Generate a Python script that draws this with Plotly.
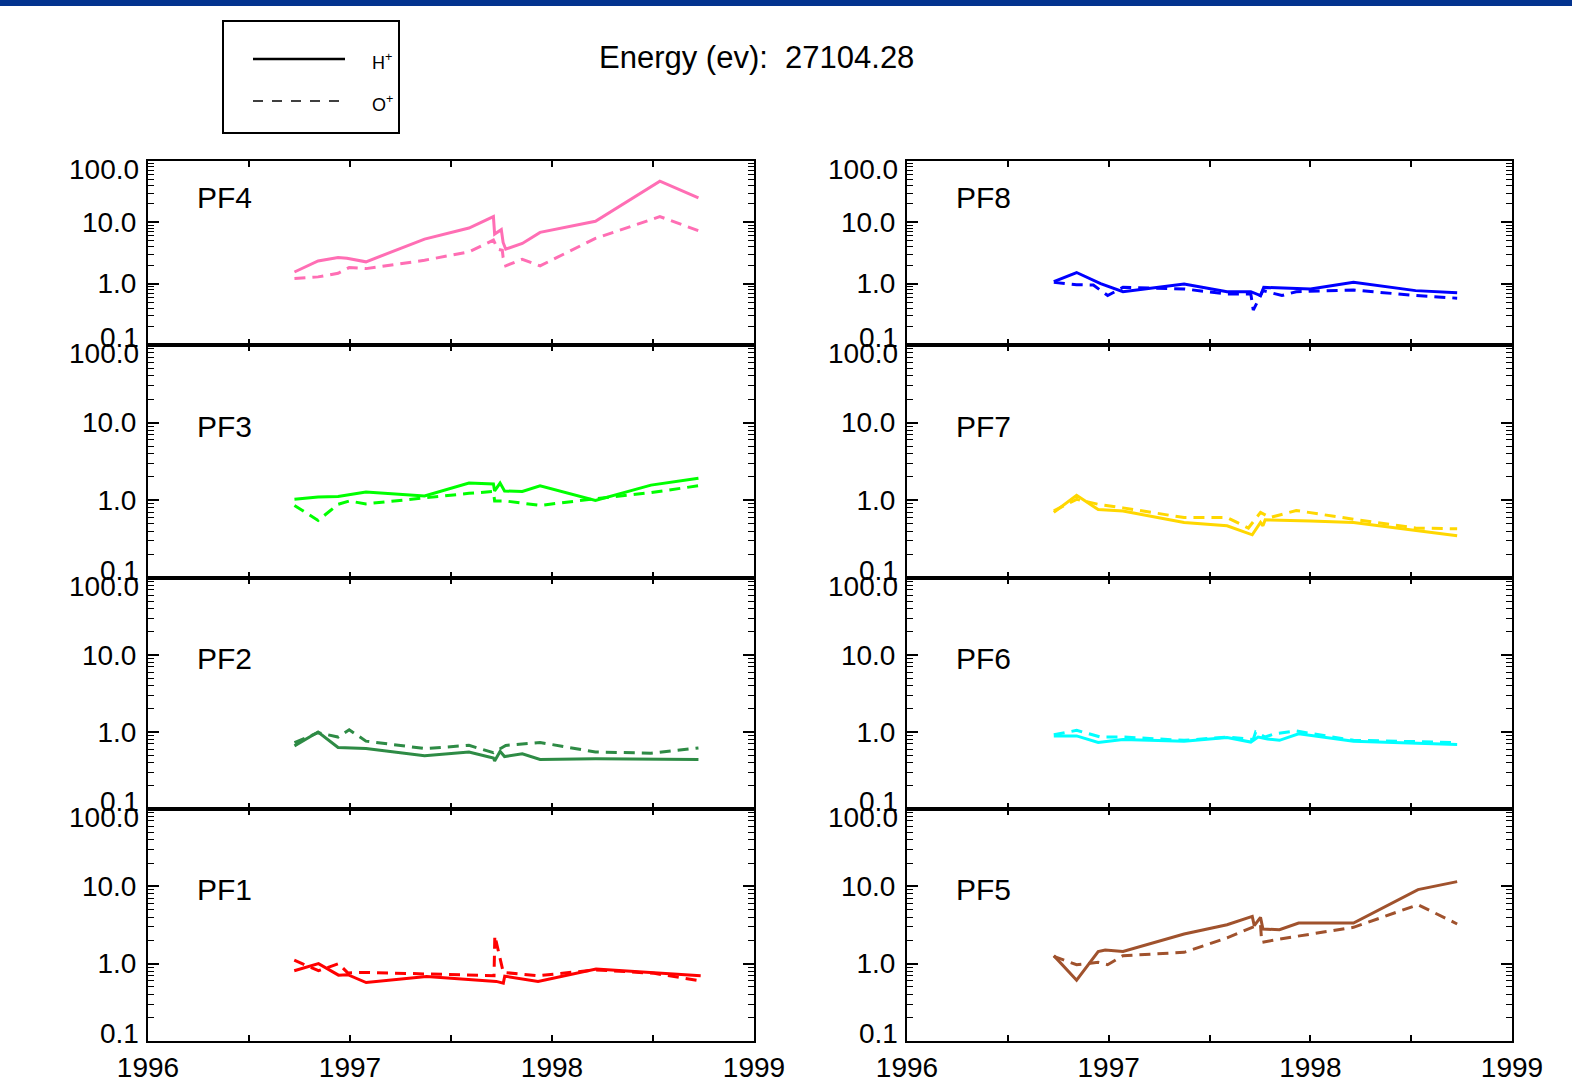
import plotly.graph_objects as go

# ---------------- data (decimal years, normalized flux) ----------------
panels = ["PF4", "PF3", "PF2", "PF1", "PF8", "PF7", "PF6", "PF5"]
panel_colors = ["#FF6EB4", "#00FF00", "#2E8B45", "#FF0000",
                "#0000FF", "#FFD700", "#00FFFF", "#A0522D"]

pf4_h_x = [1996.725, 1996.842, 1996.941, 1996.985, 1997.079, 1997.369, 1997.589, 1997.710, 1997.716, 1997.749, 1997.758, 1997.771, 1997.853, 1997.941, 1998.215, 1998.534, 1998.725]
pf4_h_y = [1.55, 2.35, 2.67, 2.6, 2.27, 5.33, 8.07, 12.4, 6.44, 7.6, 4.7, 3.65, 4.53, 6.86, 10.4, 47, 25]
pf4_o_x = [1996.725, 1996.842, 1996.941, 1996.996, 1997.079, 1997.369, 1997.589, 1997.710, 1997.732, 1997.754, 1997.758, 1997.771, 1997.853, 1997.941, 1998.215, 1998.534, 1998.725]
pf4_o_y = [1.21, 1.29, 1.48, 1.83, 1.76, 2.41, 3.3, 5.13, 3.65, 3.5, 2.67, 1.95, 2.5, 1.95, 5.47, 12.4, 7.3]

pf3_h_x = [1996.725, 1996.842, 1996.941, 1997.079, 1997.369, 1997.589, 1997.710, 1997.716, 1997.743, 1997.765, 1997.853, 1997.941, 1998.215, 1998.490, 1998.725]
pf3_h_y = [1.03, 1.1, 1.12, 1.28, 1.14, 1.67, 1.62, 1.32, 1.67, 1.32, 1.3, 1.54, 1.0, 1.57, 1.92]
pf3_o_x = [1996.725, 1996.842, 1996.941, 1996.996, 1997.079, 1997.369, 1997.589, 1997.710, 1997.716, 1997.771, 1997.853, 1997.941, 1998.215, 1998.490, 1998.725]
pf3_o_y = [0.86, 0.55, 0.89, 0.98, 0.9, 1.08, 1.23, 1.3, 0.98, 0.98, 0.92, 0.86, 1.05, 1.26, 1.54]

pf2_h_x = [1996.725, 1996.842, 1996.941, 1997.079, 1997.369, 1997.589, 1997.710, 1997.716, 1997.743, 1997.765, 1997.853, 1997.941, 1998.215, 1998.725]
pf2_h_y = [0.66, 1.0, 0.63, 0.61, 0.49, 0.55, 0.46, 0.42, 0.56, 0.48, 0.52, 0.44, 0.45, 0.44]
pf2_o_x = [1996.725, 1996.842, 1996.941, 1996.996, 1997.079, 1997.369, 1997.589, 1997.710, 1997.771, 1997.941, 1998.215, 1998.490, 1998.725]
pf2_o_y = [0.73, 0.98, 0.86, 1.07, 0.76, 0.61, 0.67, 0.54, 0.67, 0.73, 0.55, 0.53, 0.62]

pf1_h_x = [1996.724, 1996.844, 1996.943, 1996.989, 1997.080, 1997.379, 1997.724, 1997.759, 1997.766, 1997.931, 1998.218, 1998.736]
pf1_h_y = [0.81, 1.0, 0.71, 0.72, 0.57, 0.68, 0.59, 0.56, 0.69, 0.59, 0.85, 0.70]
pf1_o_x = [1996.724, 1996.844, 1996.943, 1996.989, 1997.080, 1997.379, 1997.713, 1997.717, 1997.759, 1997.931, 1998.218, 1998.506, 1998.736]
pf1_o_y = [1.11, 0.81, 1.0, 0.76, 0.77, 0.73, 0.70, 2.3, 0.77, 0.70, 0.83, 0.75, 0.60]

pf8_h_x = [1996.728, 1996.841, 1996.960, 1997.071, 1997.374, 1997.587, 1997.705, 1997.753, 1997.769, 1998.001, 1998.214, 1998.522, 1998.728]
pf8_h_y = [1.08, 1.52, 1.0, 0.74, 0.99, 0.74, 0.74, 0.64, 0.87, 0.82, 1.05, 0.77, 0.71]
pf8_o_x = [1996.728, 1996.841, 1996.924, 1996.995, 1997.071, 1997.374, 1997.587, 1997.705, 1997.717, 1997.765, 1997.859, 1997.930, 1998.214, 1998.522, 1998.728]
pf8_o_y = [1.05, 0.96, 0.95, 0.64, 0.87, 0.82, 0.68, 0.68, 0.37, 0.77, 0.64, 0.74, 0.79, 0.64, 0.58]

pf7_h_x = [1996.728, 1996.841, 1996.948, 1997.071, 1997.374, 1997.587, 1997.712, 1997.753, 1997.765, 1997.776, 1998.001, 1998.214, 1998.728]
pf7_h_y = [0.70, 1.16, 0.76, 0.73, 0.52, 0.47, 0.36, 0.52, 0.47, 0.56, 0.54, 0.52, 0.35]
pf7_o_x = [1996.728, 1996.841, 1996.948, 1997.071, 1997.374, 1997.587, 1997.693, 1997.753, 1997.800, 1997.930, 1998.214, 1998.522, 1998.728]
pf7_o_y = [0.73, 1.03, 0.89, 0.80, 0.60, 0.60, 0.44, 0.70, 0.60, 0.74, 0.57, 0.44, 0.43]

pf6_h_x = [1996.728, 1996.841, 1996.948, 1997.071, 1997.374, 1997.587, 1997.705, 1997.741, 1997.788, 1997.847, 1997.942, 1998.214, 1998.728]
pf6_h_y = [0.89, 0.89, 0.73, 0.80, 0.76, 0.85, 0.74, 0.86, 0.81, 0.78, 0.95, 0.76, 0.69]
pf6_o_x = [1996.728, 1996.841, 1996.960, 1997.071, 1997.374, 1997.587, 1997.717, 1997.729, 1997.776, 1997.824, 1997.930, 1998.214, 1998.728]
pf6_o_y = [0.92, 1.05, 0.86, 0.86, 0.78, 0.86, 0.80, 1.0, 0.86, 0.95, 1.03, 0.78, 0.73]

pf5_h_x = [1996.728, 1996.841, 1996.948, 1996.983, 1997.071, 1997.374, 1997.587, 1997.712, 1997.722, 1997.753, 1997.765, 1997.847, 1997.942, 1998.214, 1998.534, 1998.728]
pf5_h_y = [1.27, 0.61, 1.43, 1.5, 1.44, 2.42, 3.19, 4.09, 3.1, 3.97, 2.8, 2.75, 3.36, 3.36, 9.06, 11.5]
pf5_o_x = [1996.728, 1996.841, 1996.948, 1996.995, 1997.071, 1997.374, 1997.587, 1997.712, 1997.753, 1997.759, 1997.847, 1998.214, 1998.534, 1998.728]
pf5_o_y = [1.24, 0.97, 1.04, 0.97, 1.27, 1.4, 2.15, 2.95, 3.16, 1.89, 2.08, 2.95, 5.79, 3.26]

h_series = [(pf4_h_x, pf4_h_y), (pf3_h_x, pf3_h_y), (pf2_h_x, pf2_h_y), (pf1_h_x, pf1_h_y),
            (pf8_h_x, pf8_h_y), (pf7_h_x, pf7_h_y), (pf6_h_x, pf6_h_y), (pf5_h_x, pf5_h_y)]
o_series = [(pf4_o_x, pf4_o_y), (pf3_o_x, pf3_o_y), (pf2_o_x, pf2_o_y), (pf1_o_x, pf1_o_y),
            (pf8_o_x, pf8_o_y), (pf7_o_x, pf7_o_y), (pf6_o_x, pf6_o_y), (pf5_o_x, pf5_o_y)]

x_tickvals = [1996, 1997, 1998, 1999]
x_ticktext = ["1996", "1997", "1998", "1999"]
x_minor_vals = [1996.5, 1997.5, 1998.5]
y_major_vals = [1, 10]
y_major_text = ["1.0", "10.0"]
y_edge_top = "100.0"
y_edge_bottom = "0.1"
y_minor_vals = [m * d for d in (0.1, 1, 10) for m in range(2, 10)]

title_text = "Energy (ev):\u00a0 27104.28"

# ---------------- layout geometry (pixels) ----------------
W, H = 1572, 1087
FONT = "Liberation Sans, Arial, Helvetica, sans-serif"
col_px = [(148, 754), (907, 1512)]
row_px = [(161, 345), (345, 578), (578, 809), (809, 1041)]
label_y_px = [197, 427, 658, 889]


def px_x(p):
    return p / W


def px_y(p):
    return 1 - p / H


fig = go.Figure()
layout = {}
annotations = []

for i, name in enumerate(panels):
    col, row = divmod(i, 4)
    n = i + 1
    xa = "x" if n == 1 else f"x{n}"
    ya = "y" if n == 1 else f"y{n}"
    c = panel_colors[i]
    hx, hy = h_series[i]
    ox, oy = o_series[i]
    fig.add_trace(go.Scatter(x=hx, y=hy, xaxis=xa, yaxis=ya, mode="lines",
                             line=dict(color=c, width=3), showlegend=False,
                             name=f"{name} H+"))
    fig.add_trace(go.Scatter(x=ox, y=oy, xaxis=xa, yaxis=ya, mode="lines",
                             line=dict(color=c, width=3, dash="11px,7px"),
                             showlegend=False, name=f"{name} O+"))
    x0, x1 = col_px[col]
    y0, y1 = row_px[row]
    layout["xaxis" if n == 1 else f"xaxis{n}"] = dict(
        domain=[px_x(x0), px_x(x1)], range=[1996, 1999], anchor=ya,
        tickmode="array", tickvals=x_tickvals, ticktext=x_ticktext,
        showticklabels=(row == 3), ticks="inside", ticklen=6, tickwidth=1.5,
        tickcolor="black",
        minor=dict(tickmode="array", tickvals=x_minor_vals,
                   ticks="inside", ticklen=6, tickwidth=1.5, tickcolor="black",
                   showgrid=False),
        showline=True, linewidth=2, linecolor="black",
        mirror="allticks", showgrid=False, zeroline=False, automargin=False,
        tickfont=dict(family=FONT, size=28, color="black"),
        ticklabelstandoff=0,
    )
    layout["yaxis" if n == 1 else f"yaxis{n}"] = dict(
        domain=[px_y(y1), px_y(y0)], type="log", range=[-1, 2], anchor=xa,
        tickmode="array", tickvals=y_major_vals, ticktext=y_major_text,
        ticks="inside", ticklen=11, tickwidth=1.5, tickcolor="black",
        minor=dict(tickmode="array", tickvals=y_minor_vals, ticks="inside",
                   ticklen=6, tickwidth=1.2, tickcolor="black", showgrid=False),
        showline=True, linewidth=2, linecolor="black", mirror="allticks",
        showgrid=False, zeroline=False, automargin=False,
        tickfont=dict(family=FONT, size=28, color="black"),
        ticklabelstandoff=4,
    )
    # edge tick labels, offset inward as in the original
    annotations.append(dict(text=y_edge_top, xref="paper", yref=f"{ya} domain",
                            x=px_x(x0), y=1, xanchor="right", yanchor="middle",
                            xshift=-7, yshift=-8, showarrow=False,
                            font=dict(family=FONT, size=28, color="black")))
    annotations.append(dict(text=y_edge_bottom, xref="paper", yref=f"{ya} domain",
                            x=px_x(x0), y=0, xanchor="right", yanchor="middle",
                            xshift=-7, yshift=8, showarrow=False,
                            font=dict(family=FONT, size=28, color="black")))
    # panel name
    annotations.append(dict(text=name, xref="paper", yref="paper",
                            x=px_x(x0 + 47), y=px_y(label_y_px[row]),
                            xanchor="left", yanchor="middle", showarrow=False,
                            font=dict(family=FONT, size=30, color="black")))

# title
annotations.append(dict(text=title_text, xref="paper", yref="paper",
                        x=px_x(597), y=px_y(57), xanchor="left", yanchor="middle",
                        showarrow=False, font=dict(family=FONT, size=31, color="black")))
# legend texts
annotations.append(dict(text="H<sup>+</sup>", xref="paper", yref="paper",
                        x=px_x(370), y=px_y(61), xanchor="left", yanchor="middle",
                        showarrow=False, font=dict(family=FONT, size=18, color="black")))
annotations.append(dict(text="O<sup>+</sup>", xref="paper", yref="paper",
                        x=px_x(370), y=px_y(104), xanchor="left", yanchor="middle",
                        showarrow=False, font=dict(family=FONT, size=18, color="black")))

shapes = [
    # top banner
    dict(type="rect", xref="paper", yref="paper", x0=0, x1=1, y0=px_y(6), y1=1,
         fillcolor="#03338F", line=dict(width=0)),
    # legend box
    dict(type="rect", xref="paper", yref="paper", x0=px_x(223), x1=px_x(399),
         y0=px_y(133), y1=px_y(21), line=dict(color="black", width=2)),
    dict(type="line", xref="paper", yref="paper", x0=px_x(253), x1=px_x(345),
         y0=px_y(59), y1=px_y(59), line=dict(color="black", width=2.5)),
    dict(type="line", xref="paper", yref="paper", x0=px_x(253), x1=px_x(345),
         y0=px_y(101), y1=px_y(101), line=dict(color="black", width=1.5, dash="10px,9px")),
]

fig.update_layout(
    width=W, height=H, margin=dict(l=0, r=0, t=0, b=0, autoexpand=False),
    paper_bgcolor="white", plot_bgcolor="white",
    annotations=annotations, shapes=shapes, showlegend=False,
    font=dict(family=FONT, color="black"),
    **layout,
)

fig.write_html(
    "out.html",
    config={"responsive": False, "displayModeBar": False},
    post_script="document.body.style.margin='0';document.body.style.padding='0';"
                "document.documentElement.style.overflow='hidden';",
)
